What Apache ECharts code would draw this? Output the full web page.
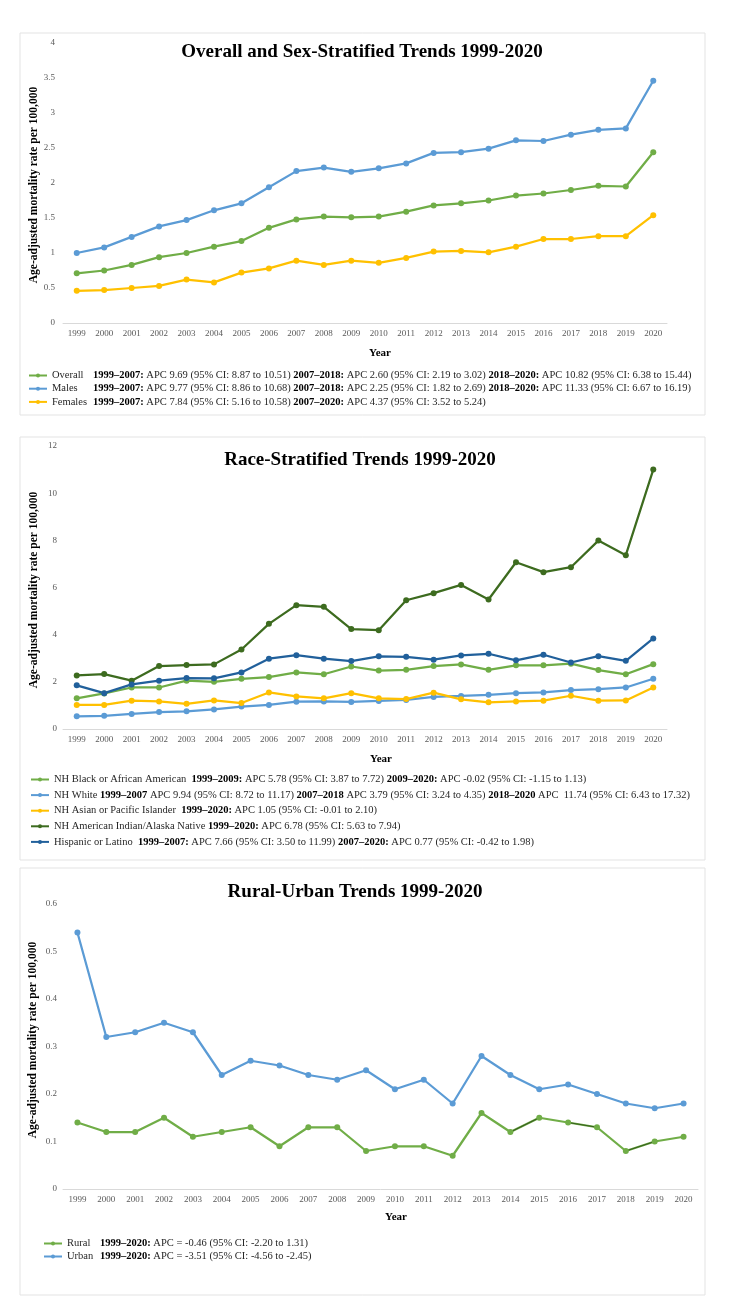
<!DOCTYPE html>
<html>
<head>
<meta charset="utf-8">
<script src="https://cdn.jsdelivr.net/npm/echarts@6/dist/echarts.min.js"></script>
<style>
  html, body { margin: 0; padding: 0; background: #ffffff; }
  #chart { width: 730px; height: 1296px; }
</style>
</head>
<body>
<div id="chart"></div>
<script>
// ---------- DATA ----------
const years = ['1999','2000','2001','2002','2003','2004','2005','2006','2007','2008','2009','2010','2011','2012','2013','2014','2015','2016','2017','2018','2019','2020'];

// Chart 1: Overall and sex-stratified
const overall = [0.71,0.75,0.83,0.94,1.00,1.09,1.17,1.36,1.48,1.52,1.51,1.52,1.59,1.68,1.71,1.75,1.82,1.85,1.90,1.96,1.95,2.44];
const males   = [1.00,1.08,1.23,1.38,1.47,1.61,1.71,1.94,2.17,2.22,2.16,2.21,2.28,2.43,2.44,2.49,2.61,2.60,2.69,2.76,2.78,3.46];
const females = [0.46,0.47,0.50,0.53,0.62,0.58,0.72,0.78,0.89,0.83,0.89,0.86,0.93,1.02,1.03,1.01,1.09,1.20,1.20,1.24,1.24,1.54];

// Chart 2: Race-stratified
const nhBlack    = [1.30,1.51,1.76,1.76,2.05,2.00,2.13,2.20,2.40,2.32,2.65,2.48,2.51,2.67,2.74,2.51,2.70,2.70,2.77,2.50,2.32,2.75];
const nhWhite    = [0.54,0.56,0.64,0.72,0.75,0.83,0.95,1.02,1.16,1.17,1.15,1.19,1.23,1.36,1.40,1.45,1.52,1.55,1.65,1.69,1.76,2.13];
const nhAsian    = [1.02,1.02,1.20,1.17,1.07,1.21,1.10,1.55,1.38,1.30,1.52,1.30,1.27,1.54,1.26,1.13,1.17,1.20,1.41,1.20,1.21,1.76];
const nhAIAN     = [2.27,2.33,2.05,2.67,2.71,2.74,3.37,4.46,5.25,5.18,4.24,4.19,5.46,5.76,6.11,5.49,7.07,6.65,6.86,7.99,7.37,11.00];
const hispanic   = [1.85,1.52,1.89,2.05,2.16,2.15,2.40,2.98,3.13,2.98,2.88,3.08,3.06,2.94,3.12,3.19,2.91,3.15,2.82,3.09,2.89,3.84];

// Chart 3: Rural-urban
const rural = [0.14,0.12,0.12,0.15,0.11,0.12,0.13,0.09,0.13,0.13,0.08,0.09,0.09,0.07,0.16,0.12,0.15,0.14,0.13,0.08,0.10,0.11];
const urban = [0.54,0.32,0.33,0.35,0.33,0.24,0.27,0.26,0.24,0.23,0.25,0.21,0.23,0.18,0.28,0.24,0.21,0.22,0.20,0.18,0.17,0.18];
// darker overlaid segments visible on the rural line (2014-2015, 2016-2017, 2018-2019)
const ruralDarkSegments = [null,null,null,null,null,null,null,null,null,null,null,null,null,null,null,0.12,0.15,0.14,0.13,0.08,0.10,null];
const ruralDarkBreaks = [15,16,17,18,19,20]; // pairs: (15,16),(17,18),(19,20)

// Text
const titles = ['Overall and Sex-Stratified Trends 1999-2020', 'Race-Stratified Trends 1999-2020', 'Rural-Urban Trends 1999-2020'];
const yAxisName = 'Age-adjusted mortality rate per 100,000';
const xAxisName = 'Year';
const names1 = ['Overall', 'Males', 'Females'];
const names2 = ['NH Black or African American', 'NH White', 'NH Asian or Pacific Islander', 'NH American Indian/Alaska Native', 'Hispanic or Latino'];
const names3 = ['Rural', 'Urban'];
const notes1 = [
  '{b|1999–2007:} APC 9.69 (95% CI: 8.87 to 10.51) {b|2007–2018:} APC 2.60 (95% CI: 2.19 to 3.02) {b|2018–2020:} APC 10.82 (95% CI: 6.38 to 15.44)',
  '{b|1999–2007:} APC 9.77 (95% CI: 8.86 to 10.68) {b|2007–2018:} APC 2.25 (95% CI: 1.82 to 2.69) {b|2018–2020:} APC 11.33 (95% CI: 6.67 to 16.19)',
  '{b|1999–2007:} APC 7.84 (95% CI: 5.16 to 10.58) {b|2007–2020:} APC 4.37 (95% CI: 3.52 to 5.24)'
];
const notes2 = [
  '  {b|1999–2009:} APC 5.78 (95% CI: 3.87 to 7.72) {b|2009–2020:} APC -0.02 (95% CI: -1.15 to 1.13)',
  ' {b|1999–2007} APC 9.94 (95% CI: 8.72 to 11.17) {b|2007–2018} APC 3.79 (95% CI: 3.24 to 4.35) {b|2018–2020} APC  11.74 (95% CI: 6.43 to 17.32)',
  '  {b|1999–2020:} APC 1.05 (95% CI: -0.01 to 2.10)',
  ' {b|1999–2020:} APC 6.78 (95% CI: 5.63 to 7.94)',
  '  {b|1999–2007:} APC 7.66 (95% CI: 3.50 to 11.99) {b|2007–2020:} APC 0.77 (95% CI: -0.42 to 1.98)'
];
const notes3 = [
  '{b|1999–2020:} APC = -0.46 (95% CI: -2.20 to 1.31)',
  '{b|1999–2020:} APC = -3.51 (95% CI: -4.56 to -2.45)'
];

// ---------- STYLE ----------
const FONT = "'Liberation Serif', 'Times New Roman', serif";
const C = { green: '#70AD47', blue: '#5B9BD5', gold: '#FFC000', dkgreen: '#3D6B1F', dkblue: '#21609B' };

const chart = echarts.init(document.getElementById('chart'), null, { renderer: 'canvas' });

const grids = [
  { left: 63, top: 43, width: 604, height: 280 },
  { left: 63, top: 446, width: 604, height: 283 },
  { left: 63, top: 904, width: 635, height: 285 }
];

function mkX(i, padLeft, gap) {
  return {
    type: 'category', gridIndex: i, data: years, boundaryGap: true,
    axisTick: { show: false },
    axisLine: { lineStyle: { color: '#d9d9d9', width: 1 } },
    axisLabel: { fontFamily: FONT, fontSize: 9, color: '#595959', margin: 6, interval: 0 },
    name: xAxisName, nameLocation: 'middle', nameGap: gap, nameMoveOverlap: false,
    nameTextStyle: { fontFamily: FONT, fontSize: 11, fontWeight: 'bold', color: '#000', padding: [0, 0, 0, padLeft] }
  };
}
function mkY(i, max, interval, margin, gap, pad) {
  return {
    type: 'value', gridIndex: i, min: 0, max: max, interval: interval,
    splitLine: { show: false }, axisLine: { show: false }, axisTick: { show: false },
    axisLabel: { fontFamily: FONT, fontSize: 9, color: '#595959', margin: margin },
    name: yAxisName, nameLocation: 'middle', nameGap: gap, nameRotate: 90, nameMoveOverlap: false,
    nameTextStyle: { fontFamily: FONT, fontSize: 11.5, fontWeight: 'bold', color: '#000', padding: pad }
  };
}
function mkS(name, data, color, i) {
  return {
    type: 'line', name: name, data: data, xAxisIndex: i, yAxisIndex: i,
    symbol: 'circle', symbolSize: 6, color: color,
    lineStyle: { width: 2.25, color: color }, itemStyle: { color: color },
    emphasis: { disabled: true }
  };
}
function mkLegend(names, notes, opt) {
  const map = {};
  names.forEach((n, k) => { map[n] = notes[k]; });
  return Object.assign({
    orient: 'vertical', selectedMode: false,
    data: names,
    formatter: function (n) { return '{n|' + n + '}' + map[n]; },
    textStyle: {
      fontFamily: FONT, fontSize: opt.fs, color: '#262626', lineHeight: opt.lh,
      rich: {
        n: { fontFamily: FONT, fontSize: opt.fs, color: '#262626', width: opt.nw, lineHeight: opt.lh },
        b: { fontFamily: FONT, fontSize: opt.fs, fontWeight: 'bold', color: '#000', lineHeight: opt.lh }
      }
    },
    itemWidth: 18, itemHeight: 5, itemGap: opt.gap, padding: 0
  }, opt.pos);
}

// rural darker overlay: split into separate 2-point segments
const ruralOverlays = [];
for (let k = 0; k < ruralDarkBreaks.length; k += 2) {
  const a = ruralDarkBreaks[k], b = ruralDarkBreaks[k + 1];
  const seg = ruralDarkSegments.map((v, j) => (j === a || j === b) ? v : null);
  ruralOverlays.push({
    type: 'line', name: 'rural-seg-' + k, data: seg, xAxisIndex: 2, yAxisIndex: 2,
    symbol: 'none', connectNulls: false, z: 3,
    lineStyle: { width: 1.2, color: '#2E5218', opacity: 0.85 },
    emphasis: { disabled: true }, silent: true
  });
}

const option = {
  animation: false,
  backgroundColor: '#ffffff',
  graphic: [
    { type: 'rect', shape: { x: 20, y: 33, width: 685, height: 382 }, style: { fill: 'none', stroke: '#e3e3e3', lineWidth: 1 } },
    { type: 'rect', shape: { x: 20, y: 437, width: 685, height: 423 }, style: { fill: 'none', stroke: '#e3e3e3', lineWidth: 1 } },
    { type: 'rect', shape: { x: 20, y: 868, width: 685, height: 427 }, style: { fill: 'none', stroke: '#e3e3e3', lineWidth: 1 } }
  ],
  title: [
    { text: titles[0], left: 362, top: 43, textAlign: 'center', padding: 0, textStyle: { fontFamily: FONT, fontSize: 19, fontWeight: 'bold', color: '#000' } },
    { text: titles[1], left: 360, top: 450.5, textAlign: 'center', padding: 0, textStyle: { fontFamily: FONT, fontSize: 19, fontWeight: 'bold', color: '#000' } },
    { text: titles[2], left: 355, top: 882.5, textAlign: 'center', padding: 0, textStyle: { fontFamily: FONT, fontSize: 19, fontWeight: 'bold', color: '#000' } }
  ],
  legend: [
    mkLegend(names1, notes1, { fs: 10.5, lh: 10, nw: 41, gap: 2.2, pos: { left: 28, top: 370 } }),
    mkLegend(names2, notes2, { fs: 10.5, lh: 10, gap: 4.6, pos: { left: 30, top: 774 } }),
    mkLegend(names3, notes3, { fs: 10.5, lh: 10, nw: 33, gap: 2, pos: { left: 43, top: 1238 } })
  ],
  grid: grids,
  xAxis: [mkX(0, 30, 25), mkX(1, 32, 25), mkX(2, 31, 23)],
  yAxis: [
    mkY(0, 4, 0.5, 8, 23, [0, 4, 0, 0]),
    mkY(1, 12, 2, 6, 23, [0, 5, 0, 0]),
    mkY(2, 0.6, 0.1, 6, 24, [0, 0, 0, 13])
  ],
  series: [
    mkS('Overall', overall, C.green, 0),
    mkS('Males', males, C.blue, 0),
    mkS('Females', females, C.gold, 0),
    mkS('NH Black or African American', nhBlack, C.green, 1),
    mkS('NH White', nhWhite, C.blue, 1),
    mkS('NH Asian or Pacific Islander', nhAsian, C.gold, 1),
    mkS('NH American Indian/Alaska Native', nhAIAN, C.dkgreen, 1),
    mkS('Hispanic or Latino', hispanic, C.dkblue, 1),
    mkS('Rural', rural, C.green, 2),
    mkS('Urban', urban, C.blue, 2)
  ].concat(ruralOverlays)
};
chart.setOption(option);
</script>
</body>
</html>
